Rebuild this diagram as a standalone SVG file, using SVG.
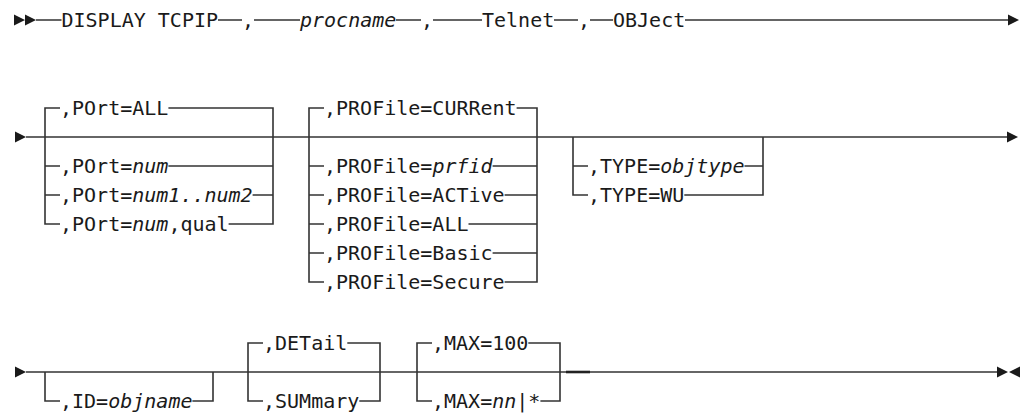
<svg xmlns="http://www.w3.org/2000/svg" width="1026" height="414" viewBox="0 0 1026 414">
<style>
.t{font-family:"DejaVu Sans Mono","Liberation Mono",monospace;font-size:20px;fill:#1a1a1a}
.i{font-style:italic}
.c{fill:none;stroke:#333;stroke-width:1.6}
.k{stroke-width:2.6;stroke:#222}
.a{fill:#1a1a1a}
</style>
<rect width="1026" height="414" fill="#fff"/>
<g id="connectors">
<!-- row 1 -->
<path class="a" d="M14,14.5 L25,20 L14,25.5 Z M25,14.5 L36,20 L25,25.5 Z"/>
<path class="c" d="M36,20 H61.5 M218,20 H242 M254,20 H300 M396,20 H421 M433,20 H482 M554,20 H578 M590,20 H613 M685,20 H1009"/>
<path class="a" d="M1008,14.5 L1019,20 L1008,25.5 Z"/>
<!-- row 2 -->
<path class="a" d="M15,131.5 L26,137 L15,142.5 Z"/>
<path class="c" d="M26,137 H1008"/>
<path class="a" d="M1007,131.5 L1018,137 L1007,142.5 Z"/>
<!-- POrt group -->
<path class="c" d="M60,108 H45 V224 H60 M45,166 H60 M45,195 H60"/>
<path class="c" d="M168.4,108 H273 V224 H228.6 M168.4,166 H273 M252.6,195 H273"/>
<!-- PROFile group -->
<path class="c" d="M324,108 H309 V282 H324 M309,166 H324 M309,195 H324 M309,224 H324 M309,253 H324"/>
<path class="c" d="M516.6,108 H537 V282 H504.6 M492.6,166 H537 M504.6,195 H537 M468.5,224 H537 M492.6,253 H537"/>
<!-- TYPE group -->
<path class="c" d="M573,137 V195 H588 M573,166 H588"/>
<path class="c" d="M744.5,166 H763 M684.3,195 H763 V137"/>
<!-- row 3 -->
<path class="a" d="M15,366.5 L26,372 L15,377.5 Z"/>
<path class="c" d="M26,372 H998"/>
<path class="c k" d="M566,372 H590"/>
<path class="a" d="M997,366.5 L1008,372 L997,377.5 Z M1020,366.5 L1009,372 L1020,377.5 Z"/>
<!-- ID group -->
<path class="c" d="M45,372 V401 H60 M192.4,401 H213 V372"/>
<!-- DETail group -->
<path class="c" d="M263,343 H248 V401 H263 M347.3,343 H380 V401 H359.3"/>
<!-- MAX group -->
<path class="c" d="M432,343 H417 V401 H432 M528.3,343 H560 V401 H540.4"/>
</g>
<g id="n-display"><text class="t" x="61.5" y="27">DISPLAY TCPIP</text></g>
<g id="n-comma1"><text class="t" x="242" y="27">,</text></g>
<g id="n-procname"><text class="t i" x="300" y="27">procname</text></g>
<g id="n-comma2"><text class="t" x="421" y="27">,</text></g>
<g id="n-telnet"><text class="t" x="482" y="27">Telnet</text></g>
<g id="n-comma3"><text class="t" x="578" y="27">,</text></g>
<g id="n-object"><text class="t" x="613" y="27">OBJect</text></g>
<g id="n-port-all"><text class="t" x="60" y="115">,POrt=ALL</text></g>
<g id="n-port-num"><text class="t" x="60" y="173">,POrt=<tspan class="i">num</tspan></text></g>
<g id="n-port-range"><text class="t" x="60" y="202">,POrt=<tspan class="i">num1..num2</tspan></text></g>
<g id="n-port-qual"><text class="t" x="60" y="231">,POrt=<tspan class="i">num</tspan>,qual</text></g>
<g id="n-prof-current"><text class="t" x="324" y="115">,PROFile=CURRent</text></g>
<g id="n-prof-prfid"><text class="t" x="324" y="173">,PROFile=<tspan class="i">prfid</tspan></text></g>
<g id="n-prof-active"><text class="t" x="324" y="202">,PROFile=ACTive</text></g>
<g id="n-prof-all"><text class="t" x="324" y="231">,PROFile=ALL</text></g>
<g id="n-prof-basic"><text class="t" x="324" y="260">,PROFile=Basic</text></g>
<g id="n-prof-secure"><text class="t" x="324" y="289">,PROFile=Secure</text></g>
<g id="n-type-obj"><text class="t" x="588" y="173">,TYPE=<tspan class="i">objtype</tspan></text></g>
<g id="n-type-wu"><text class="t" x="588" y="202">,TYPE=WU</text></g>
<g id="n-id"><text class="t" x="60" y="408">,ID=<tspan class="i">objname</tspan></text></g>
<g id="n-detail"><text class="t" x="263" y="350">,DETail</text></g>
<g id="n-summary"><text class="t" x="263" y="408">,SUMmary</text></g>
<g id="n-max100"><text class="t" x="432" y="350">,MAX=100</text></g>
<g id="n-maxnn"><text class="t" x="432" y="408">,MAX=<tspan class="i">nn</tspan>|*</text></g>
</svg>
